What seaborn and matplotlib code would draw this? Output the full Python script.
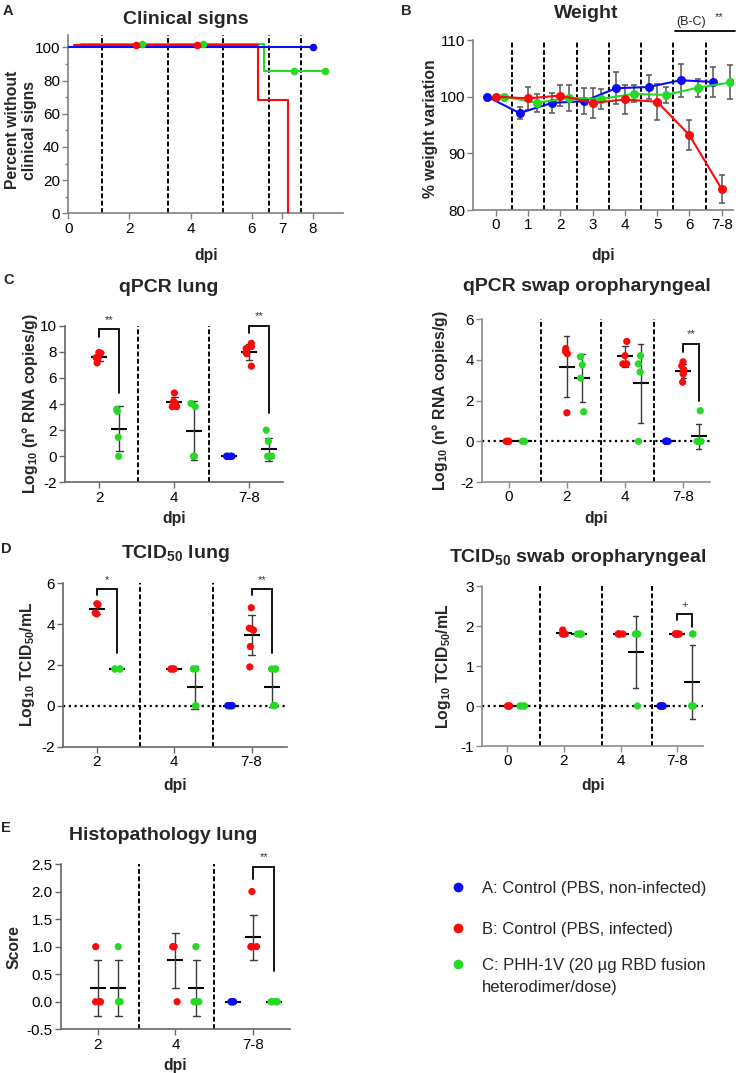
import matplotlib
matplotlib.use("Agg")
import matplotlib.pyplot as plt
import numpy as np
import pandas as pd
import seaborn as sns
from matplotlib.lines import Line2D
from matplotlib.ticker import FormatStrFormatter

W, H = 736, 1073

GROUPS = ["A", "B", "C"]
COLORS = {"A": "#0b0bf5", "B": "#fa0a0a", "C": "#25d925"}
LEGEND_LABELS = [
    "A: Control (PBS, non-infected)",
    "B: Control (PBS, infected)",
    "C: PHH-1V (20 µg RBD fusion\nheterodimer/dose)",
]

# A - clinical signs (percent of animals without clinical signs)
clin_a_days = [0, 8]
clin_a_pct = [100, 100]
clin_a_censored = [8]
clin_b_days = [0, 6, 7]
clin_b_pct = [100, 66.7, 0]
clin_b_censored = [2, 4]
clin_c_days = [0, 6, 8]
clin_c_pct = [100, 83.3, 83.3]
clin_c_censored = [2, 4, 7, 8]
clin_xticks = [0, 2, 4, 6, 7, 8]
clin_separators = [1.11, 3.26, 5.07, 6.58, 7.62]

# B - weight variation (mean, sd)
weight_days = ["0", "1", "2", "3", "4", "5", "6", "7-8"]
weight_a_mean = [100, 97.1, 98.9, 99.2, 101.5, 101.7, 102.9, 102.6]
weight_a_sd = [0, 1.0, 1.8, 2.3, 2.8, 2.2, 2.9, 2.6]
weight_b_mean = [100, 99.7, 100.2, 98.9, 99.5, 99.1, 93.2, 83.7]
weight_b_sd = [0, 2.0, 1.9, 2.6, 2.6, 3.2, 2.6, 2.5]
weight_c_mean = [100, 98.9, 99.8, 99.6, 100.5, 100.3, 101.6, 102.5]
weight_c_sd = [0, 1.6, 2.3, 1.8, 1.5, 1.4, 1.6, 3.0]

# C - qPCR lung
qpcr_lung_days = ["2", "4", "7-8"]
qpcr_lung_a = [[], [], [0, 0, 0, 0, 0, 0]]
qpcr_lung_b = [[7.95, 7.9, 7.55, 7.5, 7.15], [4.85, 4.2, 4.05, 3.8, 3.8], [8.65, 8.4, 8.25, 7.95, 7.85, 6.9]]
qpcr_lung_c = [[3.6, 3.45, 1.45, 0], [4.05, 3.8, 0, 0], [2.0, 1.15, 0, 0, 0, 0]]

# C - qPCR oropharyngeal swab
qpcr_swab_days = ["0", "2", "4", "7-8"]
qpcr_swab_a = [[], [], [], [0, 0, 0, 0, 0, 0]]
qpcr_swab_b = [[0, 0, 0, 0], [4.55, 4.4, 4.3, 1.4], [4.9, 4.2, 3.8, 3.8], [3.9, 3.7, 3.5, 3.4, 3.3, 2.9]]
qpcr_swab_c = [[0, 0, 0, 0], [4.15, 3.75, 3.1, 1.45], [4.2, 3.8, 3.4, 0], [1.5, 0, 0, 0, 0, 0]]

# D - TCID50 lung
tcid_lung_days = ["2", "4", "7-8"]
tcid_lung_a = [[], [], [0, 0, 0, 0, 0, 0]]
tcid_lung_b = [[5.0, 4.95, 4.55, 4.5], [1.8, 1.8, 1.8, 1.8], [4.8, 3.8, 3.75, 3.7, 2.9, 1.9]]
tcid_lung_c = [[1.8, 1.8, 1.8, 1.8], [1.8, 1.8, 0, 0], [1.8, 1.8, 1.8, 0, 0, 0]]

# D - TCID50 oropharyngeal swab
tcid_swab_days = ["0", "2", "4", "7-8"]
tcid_swab_a = [[], [], [], [0, 0, 0, 0, 0, 0]]
tcid_swab_b = [[0, 0, 0, 0], [1.9, 1.8, 1.8, 1.8], [1.8, 1.8, 1.8, 1.8], [1.8, 1.8, 1.8, 1.8, 1.8, 1.8]]
tcid_swab_c = [[0, 0, 0, 0], [1.8, 1.8, 1.8, 1.8], [1.8, 1.8, 1.8, 0], [1.8, 1.8, 0, 0, 0, 0]]

# E - histopathology lung score
histo_days = ["2", "4", "7-8"]
histo_a = [[], [], [0, 0, 0, 0, 0, 0]]
histo_b = [[1, 0, 0, 0], [1, 1, 1, 0], [2, 1, 1, 1, 1, 1]]
histo_c = [[1, 0, 0, 0], [1, 0, 0, 0], [0, 0, 0, 0, 0, 0]]

DODGE = 0.8 * 2 / 3
GREEN_X = DODGE / 2
DASH = (0, (2.5, 1.3))
DOT = (0, (1, 1.6))

sns.set_theme(style="ticks")
plt.rcParams["font.family"] = ["Liberation Sans", "DejaVu Sans"]
plt.rcParams["mathtext.fontset"] = "custom"
plt.rcParams["mathtext.rm"] = "Liberation Sans"
plt.rcParams["mathtext.bf"] = "Liberation Sans:bold"
plt.rcParams["axes.unicode_minus"] = False

fig = plt.figure(figsize=(W / 100, H / 100), dpi=100)


def add_axes(box):
    left, top, right, bottom = box
    return fig.add_axes([left / W, 1 - bottom / H, (right - left) / W, (bottom - top) / H])


def finish_axes(ax, box, title, title_xy, ylabel, ylabel_right, ylabel_frac, xlabel_top, spine_color="#666666"):
    left, top, right, bottom = box
    w, h = right - left, bottom - top
    sns.despine(ax=ax)
    for side in ("left", "bottom"):
        ax.spines[side].set_color(spine_color)
        ax.spines[side].set_linewidth(1.2)
    ax.tick_params(axis="both", direction="out", length=4, width=1.0, color=spine_color,
                   labelsize=11, labelcolor="black", pad=2)
    ax.set_title(title, x=(title_xy[0] - left) / w, y=(bottom - title_xy[1]) / h, va="center",
                 pad=0, fontsize=14, fontweight="bold")
    ax.set_ylabel(ylabel, fontsize=11.3, fontweight="bold")
    ax.yaxis.set_label_coords((ylabel_right - left) / w, ylabel_frac)
    ax.set_xlabel("dpi", fontsize=11.3, fontweight="bold")
    ax.xaxis.set_label_coords(0.5, -(xlabel_top - bottom) / h)
    ax.grid(False)


def frame(days, a, b, c):
    rows = []
    for grp, series in zip(GROUPS, (a, b, c)):
        for day, values in zip(days, series):
            rows.extend((day, grp, v) for v in values)
    return pd.DataFrame(rows, columns=["dpi", "group", "value"])


def dot_panel(ax, days, a, b, c, seed):
    df = frame(days, a, b, c)
    np.random.seed(seed)
    sns.stripplot(data=df, x="dpi", y="value", hue="group", order=days, hue_order=GROUPS,
                  palette=COLORS, dodge=True, jitter=0.13, size=5.2, linewidth=0,
                  legend=False, ax=ax)
    sns.pointplot(data=df, x="dpi", y="value", hue="group", order=days, hue_order=GROUPS,
                  palette={g: "black" for g in GROUPS}, dodge=DODGE, errorbar="sd",
                  capsize=0.09, markers="_", markersize=11, markeredgewidth=1.5,
                  linestyle="none", err_kws={"color": "#3a3a3a", "linewidth": 1.0},
                  legend=False, ax=ax)


def bracket(ax, x1, x2, top, y1, y2, label, label_y, drop=-4.8):
    ax.plot([x1, x1, x2, x2], [y1, top, top, y2], color="black", lw=1.3, clip_on=False,
            solid_joinstyle="miter")
    ax.annotate(label, xy=((x1 + x2) / 2, label_y), xytext=(0, drop), textcoords="offset points",
                ha="center", va="baseline", fontsize=8, color="#333333", annotation_clip=False)


# ---------------- A: clinical signs ----------------
box_a = (68.3, 35, 343.3, 213.3)
ax = add_axes(box_a)
curves = [
    ("C", clin_c_days, clin_c_pct, clin_c_censored, 0.4, 2.3),
    ("B", clin_b_days, clin_b_pct, clin_b_censored, 0.2, 1.4),
    ("A", clin_a_days, clin_a_pct, clin_a_censored, 0.0, 0.0),
]
for x in clin_separators:
    ax.axvline(x, color="black", lw=1.4, ls=DASH, zorder=1)
for grp, days, pct, censored, dx, dy in curves:
    days = np.asarray(days, dtype=float)
    pct = np.asarray(pct, dtype=float)
    y = np.where(pct > 0, pct + dy, 0)
    sns.lineplot(x=days + dx, y=y, drawstyle="steps-post", color=COLORS[grp], lw=1.5,
                 errorbar=None, sort=False, ax=ax, zorder=3)
    idx = np.searchsorted(days, censored, side="right") - 1
    sns.scatterplot(x=np.asarray(censored) + dx, y=y[idx], color=COLORS[grp], s=30,
                    linewidth=0, ax=ax, zorder=4)
ax.set_xlim(0, 9)
ax.set_ylim(0, 107.5)
ax.set_xticks(clin_xticks)
ax.set_yticks(range(0, 101, 20))
ax.set_yticks(range(10, 101, 20), minor=True)
finish_axes(ax, box_a, "Clinical signs", (186, 19), "Percent without\nclinical signs", 37, 0.467, 248,
            spine_color="#808080")
ax.tick_params(which="minor", length=2.5, color="#808080")

# ---------------- B: weight ----------------
box_b = (473.3, 40, 733, 210)
ax = add_axes(box_b)
xpos = np.arange(len(weight_days))
for x in xpos[:-1] + 0.5:
    ax.axvline(x, color="black", lw=1.4, ls=DASH, zorder=1)
series = [
    ("A", weight_a_mean, weight_a_sd, -GREEN_X),
    ("C", weight_c_mean, weight_c_sd, GREEN_X),
    ("B", weight_b_mean, weight_b_sd, 0.0),
]
for grp, mean, sd, dx in series:
    ax.errorbar(xpos + dx, mean, yerr=sd, fmt="none", ecolor="#555555", elinewidth=1.1,
                capsize=2.5, capthick=1.1, zorder=2)
    sns.lineplot(x=xpos + dx, y=mean, color=COLORS[grp], marker="o", markersize=6.5,
                 markeredgewidth=0, lw=1.5, errorbar=None, ax=ax, zorder=3)
ax.set_xlim(-0.7, 7.35)
ax.set_ylim(80, 110)
ax.set_xticks(xpos)
ax.set_xticklabels(weight_days)
ax.set_yticks([80, 90, 100, 110])
finish_axes(ax, box_b, "Weight", (586, 13), "% weight variation", 438, 0.48, 248,
            spine_color="#808080")
ax.plot([5.55, 7.4], [111.5, 111.5], color="black", lw=1.3, clip_on=False)
ax.text(6.05, 113.1, "(B-C)", ha="center", va="center", fontsize=9, color="#222222")
ax.annotate("**", xy=(6.93, 114.7), xytext=(0, -4.8), textcoords="offset points",
            ha="center", va="baseline", fontsize=8, color="#333333", annotation_clip=False)

# ---------------- C: qPCR lung ----------------
box_cl = (65, 325.7, 283.3, 482.4)
ax = add_axes(box_cl)
for x in [0.52, 1.47]:
    ax.axvline(x, color="black", lw=1.4, ls=DASH, zorder=0.5)
dot_panel(ax, qpcr_lung_days, qpcr_lung_a, qpcr_lung_b, qpcr_lung_c, seed=1)
ax.set_xlim(-0.46, 2.46)
ax.set_ylim(-2, 10)
ax.set_yticks(range(-2, 11, 2))
finish_axes(ax, box_cl, "qPCR lung", (169, 287), r"Log$_{\mathbf{10}}$ (n° RNA copies/g)", 40, 0.5, 511)
bracket(ax, 0, GREEN_X, 9.74, 9.16, 4.82, "**", 10.74)
bracket(ax, 2, 2 + GREEN_X, 10.0, 9.41, 3.29, "**", 11.0)

# ---------------- C: qPCR swab ----------------
box_cr = (482.3, 319, 710, 482.1)
ax = add_axes(box_cr)
for x in [0.56, 1.59, 2.5]:
    ax.axvline(x, color="black", lw=1.4, ls=DASH, zorder=0.5)
ax.axhline(0, color="black", lw=1.6, ls=DOT, zorder=0.6)
dot_panel(ax, qpcr_swab_days, qpcr_swab_a, qpcr_swab_b, qpcr_swab_c, seed=2)
ax.set_xlim(-0.45, 3.46)
ax.set_ylim(-2, 6)
ax.set_yticks(range(-2, 7, 2))
finish_axes(ax, box_cr, "qPCR swap oropharyngeal", (587, 286), r"Log$_{\mathbf{10}}$ (n° RNA copies/g)",
            450, 0.5, 511, spine_color="#8c8c8c")
bracket(ax, 3, 3 + GREEN_X, 4.77, 4.4, 1.98, "**", 5.46)

# ---------------- D: TCID50 lung ----------------
box_dl = (63.3, 583.3, 287.3, 746.5)
ax = add_axes(box_dl)
for x in [0.56, 1.5]:
    ax.axvline(x, color="black", lw=1.4, ls=DASH, zorder=0.5)
ax.axhline(0, color="black", lw=1.6, ls=DOT, zorder=0.6)
dot_panel(ax, tcid_lung_days, tcid_lung_a, tcid_lung_b, tcid_lung_c, seed=3)
ax.set_xlim(-0.43, 2.46)
ax.set_ylim(-2, 6)
ax.set_yticks(range(-2, 7, 2))
finish_axes(ax, box_dl, r"TCID$_{\mathbf{50}}$ lung", (175, 554), r"Log$_{\mathbf{10}}$ TCID$_{\mathbf{50}}$/mL",
            37, 0.5, 778)
bracket(ax, 0, GREEN_X, 5.72, 5.43, 2.57, "*", 6.36)
bracket(ax, 2, 2 + GREEN_X, 5.72, 5.43, 2.57, "**", 6.36)

# ---------------- D: TCID50 swab ----------------
box_dr = (482.3, 586, 703.3, 746)
ax = add_axes(box_dr)
for x in [0.58, 1.68, 2.56]:
    ax.axvline(x, color="black", lw=1.4, ls=DASH, zorder=0.5)
ax.axhline(0, color="black", lw=1.6, ls=DOT, zorder=0.6)
dot_panel(ax, tcid_swab_days, tcid_swab_a, tcid_swab_b, tcid_swab_c, seed=4)
ax.set_xlim(-0.44, 3.46)
ax.set_ylim(-1, 3)
ax.set_yticks(range(-1, 4))
finish_axes(ax, box_dr, r"TCID$_{\mathbf{50}}$ swab oropharyngeal", (578, 558),
            r"Log$_{\mathbf{10}}$ TCID$_{\mathbf{50}}$/mL", 453, 0.5, 778, spine_color="#8c8c8c")
bracket(ax, 3, 3 + GREEN_X, 2.29, 2.15, 1.98, "+", 2.55, drop=-2.7)

# ---------------- E: histopathology ----------------
box_e = (61, 864, 290, 1029.3)
ax = add_axes(box_e)
for x in [0.535, 1.49]:
    ax.axvline(x, color="black", lw=1.4, ls=DASH, zorder=0.5)
dot_panel(ax, histo_days, histo_a, histo_b, histo_c, seed=5)
ax.set_xlim(-0.47, 2.47)
ax.set_ylim(-0.5, 2.5)
ax.set_yticks(np.arange(-0.5, 2.51, 0.5))
ax.yaxis.set_major_formatter(FormatStrFormatter("%.1f"))
finish_axes(ax, box_e, "Histopathology lung", (163, 836), "Score", 22, 0.5, 1058)
bracket(ax, 2, 2 + GREEN_X, 2.44, 2.22, 0.56, "**", 2.69)

# ---------------- panel letters ----------------
for letter, (x, y) in zip("ABCDE", [(3, 4), (401, 4), (3, 273), (1, 542), (1, 821)]):
    fig.text(x / W, 1 - y / H, letter, ha="left", va="top", fontsize=10.5, fontweight="bold")

# ---------------- legend ----------------
for grp, label, y in zip(GROUPS, LEGEND_LABELS, [886.7, 928, 964]):
    fig.add_artist(Line2D([458 / W], [1 - y / H], marker="o", markersize=7, linestyle="none",
                          markeredgewidth=0, color=COLORS[grp], transform=fig.transFigure))
    for i, line in enumerate(label.split("\n")):
        fig.text(482 / W, 1 - (y + 6 + 21.7 * i) / H, line, ha="left", va="baseline", fontsize=12)

fig.savefig("out.png", dpi=100)
plt.close(fig)
